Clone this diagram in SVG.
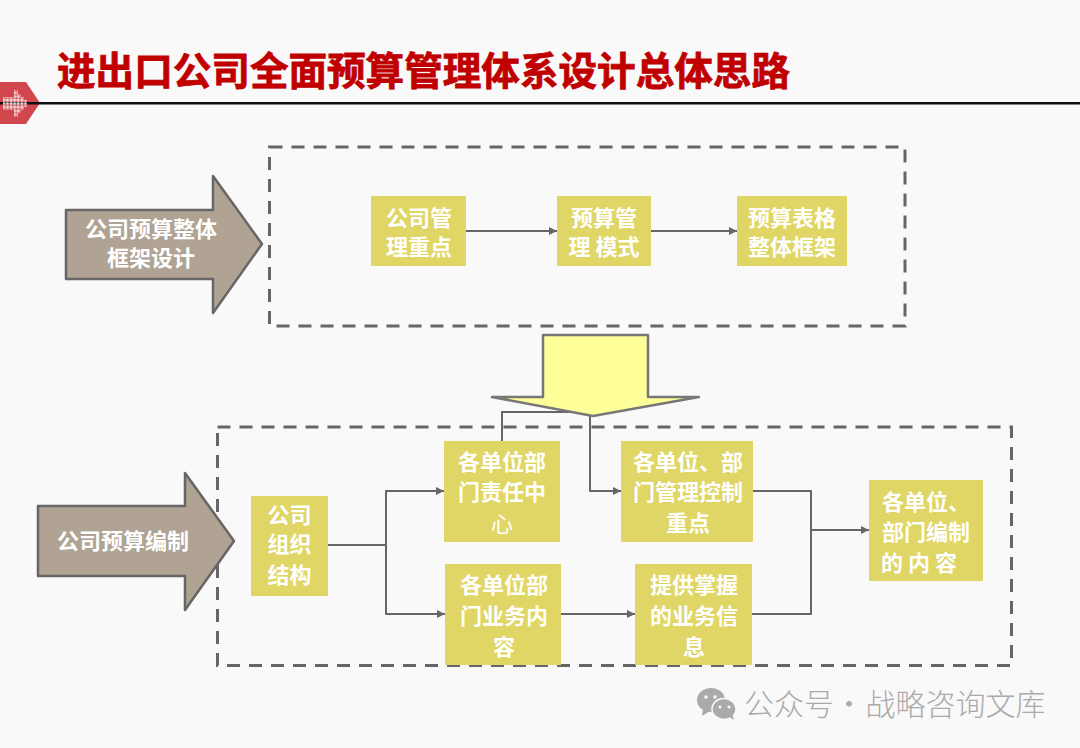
<svg xmlns="http://www.w3.org/2000/svg" width="1080" height="748" viewBox="0 0 1080 748">
<style>
text{font-family:"Noto Sans CJK SC","Liberation Sans",sans-serif;text-anchor:middle}
.box{fill:#dfd666}
.lb{fill:#fff;font-weight:700;font-size:22px}
.big{fill:#b0a393;stroke:#666;stroke-width:2.5;stroke-linejoin:round}
.dash{fill:none;stroke:#666;stroke-width:3;stroke-dasharray:13 9}
.ln{fill:none;stroke:#666;stroke-width:2;stroke-linejoin:round}
.ar{fill:none;stroke:#666;stroke-width:2;stroke-linejoin:round;marker-end:url(#tip)}
.wm{font-size:30px;font-weight:300;fill:#aaa}
</style>
<defs>
<marker id="tip" markerUnits="userSpaceOnUse" markerWidth="9" markerHeight="9" refX="8" refY="4" orient="auto"><path d="M0 0L8 4L0 8Z" fill="#666"/></marker>
<pattern id="dots" x="2" y="1" width="3.6" height="3.6" patternUnits="userSpaceOnUse"><rect x="0.5" y="0.5" width="2.7" height="2.7" fill="#f7e2e2"/></pattern>
</defs>
<rect width="1080" height="748" fill="#f9f9f9"/>

<g id="header">
<path d="M0 82H26L40 103L26 124H0Z" fill="#d2474e"/>
<rect x="0" y="102" width="1080" height="2.500" fill="#111"/>
<path d="M3 97H14V90H18V94H21V97H24V100H27V107H24V110H21V113H18V117H14V110H3Z" fill="url(#dots)"/>
<text x="423.500" y="85" style="font-size:38.600px;font-weight:700;fill:#c00000;stroke:#c00000;stroke-width:.8">进出口公司全面预算管理体系设计总体思路</text>
</g>

<g id="frames">
<rect class="dash" x="269.500" y="147" width="635.500" height="179"/>
<rect class="dash" x="217.500" y="427" width="794" height="238.500"/>
</g>

<g id="connectors">
<path class="ar" d="M466 231H557"/>
<path class="ar" d="M651 231H737"/>
<path class="ln" d="M502 441V412H590"/>
<path class="ar" d="M590 415V491H621"/>
<path class="ln" d="M328 545H386"/>
<path class="ar" d="M386 545V491H444"/>
<path class="ar" d="M386 545V614H445"/>
<path class="ar" d="M561 614H635"/>
<path class="ln" d="M753 491H811V614H752"/>
<path class="ar" d="M811 530H869"/>
</g>

<g id="arrow-framework">
<path class="big" d="M66 210H213V176L262 244L213 313V279H66Z"/>
<text class="lb" x="151" y="237">公司预算整体</text>
<text class="lb" x="151" y="266">框架设计</text>
</g>
<g id="arrow-compile">
<path class="big" d="M38 506H185V473L234 541L185 610V576H38Z"/>
<text class="lb" x="123" y="549">公司预算编制</text>
</g>
<g id="arrow-down">
<path d="M543 335H648V397H699L593 416L492 397H543Z" fill="#ffff99" stroke="#777" stroke-width="2.500" stroke-linejoin="round"/>
</g>

<g id="n-focus"><rect class="box" x="371" y="196" width="95" height="70"/><text class="lb" x="419" y="226">公司管</text><text class="lb" x="419" y="255">理重点</text></g>
<g id="n-mode"><rect class="box" x="557" y="196" width="94" height="70"/><text class="lb" x="604" y="226">预算管</text><text class="lb" x="604" y="255">理 模式</text></g>
<g id="n-table"><rect class="box" x="737" y="196" width="110" height="70"/><text class="lb" x="792" y="226">预算表格</text><text class="lb" x="792" y="255">整体框架</text></g>
<g id="n-org"><rect class="box" x="251" y="496" width="77" height="100"/><text class="lb" x="289.500" y="523">公司</text><text class="lb" x="289.500" y="552">组织</text><text class="lb" x="289.500" y="583">结构</text></g>
<g id="n-center"><rect class="box" x="444" y="441" width="116" height="101"/><text class="lb" x="502" y="470">各单位部</text><text class="lb" x="502" y="500">门责任中</text><text class="lb" x="502" y="532" style="font-weight:400">心</text></g>
<g id="n-control"><rect class="box" x="621" y="441" width="132" height="101"/><text class="lb" x="688" y="470">各单位、部</text><text class="lb" x="688" y="500">门管理控制</text><text class="lb" x="688" y="531">重点</text></g>
<g id="n-business"><rect class="box" x="445" y="564" width="116" height="101"/><text class="lb" x="504" y="593">各单位部</text><text class="lb" x="504" y="624">门业务内</text><text class="lb" x="504" y="655">容</text></g>
<g id="n-info"><rect class="box" x="635" y="564" width="117" height="101"/><text class="lb" x="694" y="593">提供掌握</text><text class="lb" x="694" y="624">的业务信</text><text class="lb" x="694" y="655">息</text></g>
<g id="n-content"><rect class="box" x="869" y="480" width="114" height="101"/><text class="lb" x="926" y="510">各单位、</text><text class="lb" x="926" y="540">部门编制</text><text class="lb" x="919" y="571">的 内 容</text></g>

<g id="watermark">
<ellipse cx="711" cy="700" rx="14" ry="12" fill="#aaa"/>
<path d="M703 709L702 716L710 711Z" fill="#aaa"/>
<circle cx="706" cy="697" r="1.800" fill="#f9f9f9"/><circle cx="715" cy="697" r="1.800" fill="#f9f9f9"/>
<ellipse cx="724" cy="709" rx="12" ry="10.500" fill="#aaa" stroke="#f9f9f9" stroke-width="1.500"/>
<path d="M728 716L734 720L732 713Z" fill="#aaa"/>
<circle cx="720" cy="707" r="1.500" fill="#f9f9f9"/><circle cx="729" cy="707" r="1.500" fill="#f9f9f9"/>
<text class="wm" x="789" y="715">公众号</text>
<text class="wm" x="849" y="715">·</text>
<text class="wm" x="955.500" y="715">战略咨询文库</text>
</g>
</svg>
